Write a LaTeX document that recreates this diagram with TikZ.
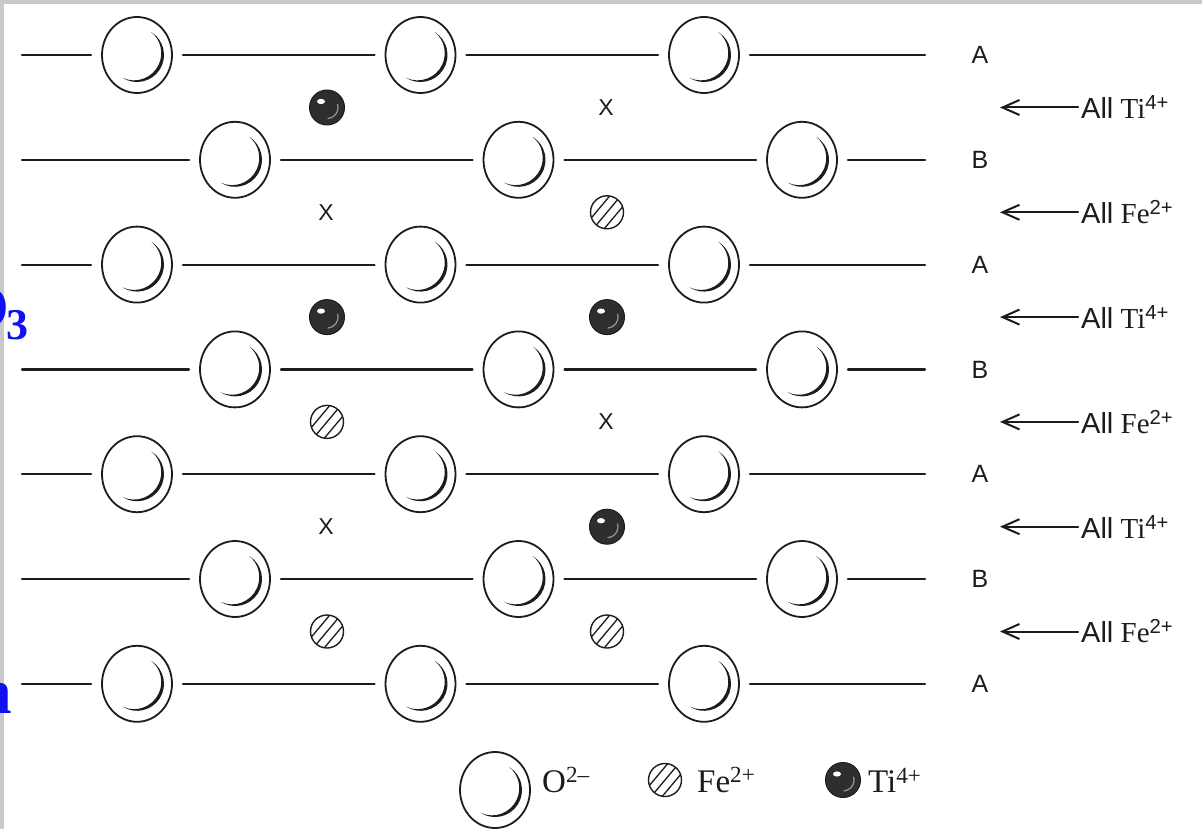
\documentclass[tikz,border=0pt]{standalone}
\usepackage{fontspec}
\setmainfont{Liberation Serif}
\setsansfont{Liberation Sans}
\usetikzlibrary{arrows.meta,shapes.geometric}
\definecolor{ink}{HTML}{1C1C1C}
\definecolor{frame}{HTML}{C9C9C9}
\definecolor{slideblue}{HTML}{1010F0}

\tikzset{
  oion/.style={ellipse,draw=ink,line width=1.8pt,minimum width=70pt,minimum height=76pt,
    inner sep=0pt,outer sep=11pt,
    path picture={\fill[ink] ([shift={(58:27pt)}]path picture bounding box.center)
      arc[start angle=58,end angle=-122,radius=27pt]
      arc[start angle=-114.6,end angle=50.6,radius=27.23pt];}},
  tiion/.style={circle,draw=ink,fill=ink!92,line width=1pt,minimum size=35pt,inner sep=0pt,
    path picture={\fill[white] ([shift={(-6pt,6pt)}]path picture bounding box.center)
      ellipse[x radius=4pt,y radius=2.6pt];
      \draw[white!55!ink,line width=1.2pt] ([shift={(15:11pt)}]path picture bounding box.center)
      arc[start angle=15,end angle=-85,radius=11pt];}},
  feion/.style={circle,draw=ink,line width=1.4pt,minimum size=33pt,inner sep=0pt,
    path picture={\foreach \s in {-11,0,11}{\draw[ink,line width=1.3pt]
      ([xshift=\s pt]path picture bounding box.center) ++(230:25pt) -- ++(50:50pt);}}},
  xsite/.style={font=\sffamily\fontsize{23}{23}\selectfont,text=ink,inner sep=0pt},
  bond/.style={ink,line width=2.2pt},
  rowlabel/.style={font=\sffamily\fontsize{25}{25}\selectfont,text=ink,inner sep=0pt},
  allnote/.style={anchor=west,font=\fontsize{29}{30}\selectfont,text=ink,inner sep=3pt},
  tip/.style={ink,line width=2pt,-{Straight Barb[length=17pt,width=15pt]}},
  legtext/.style={anchor=west,font=\fontsize{33}{34}\selectfont,text=ink,inner sep=0pt},
  slide/.style={text=slideblue,font=\bfseries\fontsize{60}{60}\selectfont,inner sep=0pt}
}

\begin{document}
\begin{tikzpicture}[x=1pt,y=1pt,line cap=round,line join=round]
  \clip (0,0) rectangle (1202,-829);
  \fill[white] (0,0) rectangle (1202,-829);
  % slide edge
  \fill[frame] (0,0) rectangle (1202,-4);
  \fill[frame] (0,0) rectangle (4,-829);

  % oxygen layers A and B
  \foreach \r in {1,...,7}{
    \pgfmathsetmacro{\yy}{-55-104.8*(\r-1)}
    \pgfmathsetmacro{\xo}{isodd(\r) ? 137 : 235}
    \node[oion] (o\r1) at (\xo,\yy) {};
    \node[oion] (o\r2) at (\xo+283.5,\yy) {};
    \node[oion] (o\r3) at (\xo+567,\yy) {};
    \coordinate (w\r) at (22,\yy);
    \coordinate (e\r) at (925,\yy);
    \draw[bond] (w\r) -- (o\r1);
    \draw[bond] (o\r1) -- (o\r2);
    \draw[bond] (o\r2) -- (o\r3);
    \draw[bond] (o\r3) -- (e\r);
    \node[rowlabel] (l\r) at (980,\yy) {\ifodd\r A\else B\fi};
  }

  % cation layers
  \foreach \k/\ion/\chg in {1/Ti/4+,2/Fe/2+,3/Ti/4+,4/Fe/2+,5/Ti/4+,6/Fe/2+}{
    \pgfmathsetmacro{\yy}{-107.5-104.8*(\k-1)}
    \node[allnote] (n\k) at (1078,\yy) {\textsf{All} \ion\textsuperscript{\sffamily\chg}};
    \coordinate (t\k) at (1000,\yy);
    \draw[tip] (n\k) -- (t\k);
  }

  \node[tiion] (s1a) at (327,-107.5) {};
  \node[xsite] (s1b) at (606,-107.5) {X};
  \node[xsite] (s2a) at (326,-212.3) {X};
  \node[feion] (s2b) at (607,-212.3) {};
  \node[tiion] (s3a) at (327,-317.1) {};
  \node[tiion] (s3b) at (607,-317.1) {};
  \node[feion] (s4a) at (327,-421.9) {};
  \node[xsite] (s4b) at (606,-421.9) {X};
  \node[xsite] (s5a) at (326,-526.7) {X};
  \node[tiion] (s5b) at (607,-526.7) {};
  \node[feion] (s6a) at (327,-631.5) {};
  \node[feion] (s6b) at (607,-631.5) {};

  % key
  \node[oion] (ko) at (495,-790) {};
  \node[legtext] (kot) at (542,-780) {O\textsuperscript{2–}};
  \node[feion] (kf) at (665,-780) {};
  \node[legtext] (kft) at (697,-780) {Fe\textsuperscript{2+}};
  \node[tiion] (kt) at (843,-780) {};
  \node[legtext] (ktt) at (868,-780) {Ti\textsuperscript{4+}};

  % cut-off slide title
  \node[slide,anchor=base east] (b1) at (9,-327) {O};
  \node[slide,anchor=base west,font=\bfseries\fontsize{44}{44}\selectfont] (b2) at (6,-339) {3};
  \node[slide,anchor=base east,font=\bfseries\fontsize{64}{64}\selectfont] (b3) at (12,-713) {n};
\end{tikzpicture}
\end{document}
